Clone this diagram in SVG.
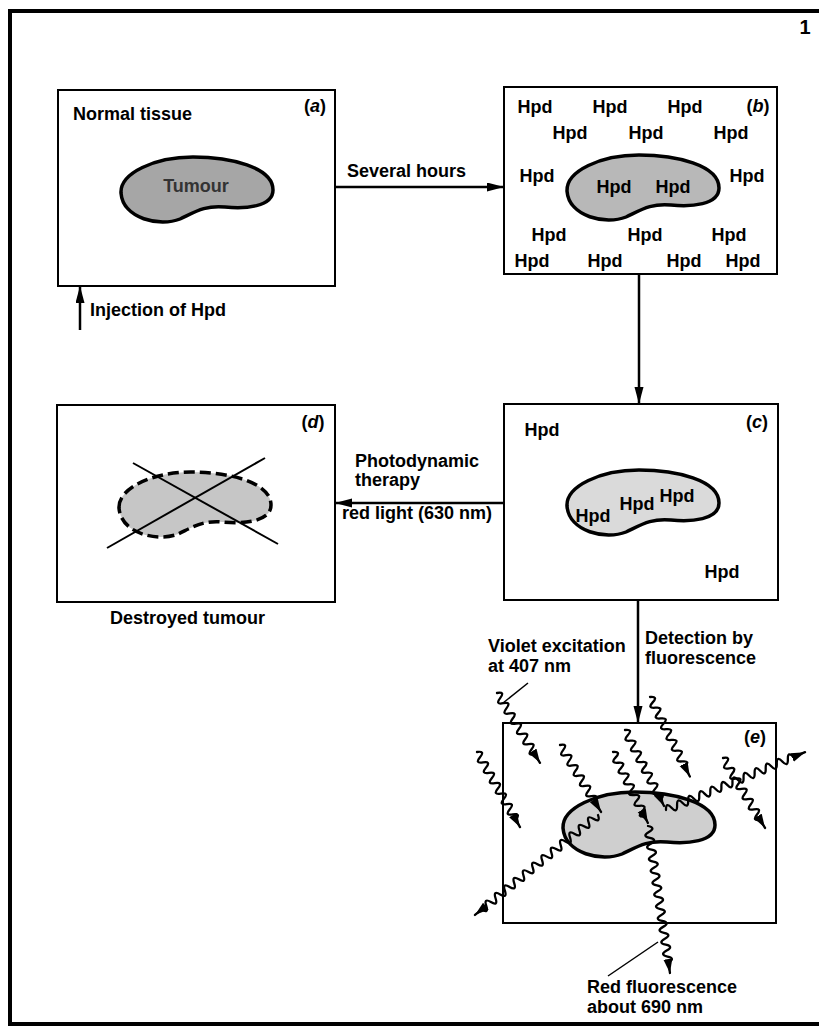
<svg xmlns="http://www.w3.org/2000/svg" width="819" height="1028" viewBox="0 0 819 1028">
<defs>
<style>
text{font-family:"Liberation Sans",Arial,Helvetica,sans-serif;font-weight:bold;font-size:18px;fill:#000}
.box{fill:#fff;stroke:#000;stroke-width:2}
.frame{stroke:#000;stroke-width:4;fill:none}
.arr{stroke:#000;stroke-width:2.5;fill:none;marker-end:url(#ah)}
.lead{stroke:#000;stroke-width:1.5;fill:none}
.wave{stroke:#000;stroke-width:2.3;fill:none;stroke-linejoin:round;stroke-linecap:round}
.wa{marker-end:url(#wh)}
.tum{stroke:#000;stroke-width:3.5}
.cross{stroke:#000;stroke-width:2}
.mid{text-anchor:middle}
</style>
<marker id="ah" markerUnits="userSpaceOnUse" markerWidth="20" markerHeight="12" refX="17" refY="4.5" orient="auto"><path d="M0,0 L17,4.5 L0,9 z" fill="#000"/></marker>
<marker id="wh" markerUnits="userSpaceOnUse" markerWidth="18" markerHeight="10" refX="14" refY="4.5" orient="auto"><path d="M0,0 L14,4.5 L0,9 z" fill="#000"/></marker>
<path id="kid" d="M1,36 C0,16 35,0 73,0 C110,0 153,10 153,33 C153,50 125,52 105,50 C85,48 75,55 60,62 C40,70 3,62 1,36 Z"/>
</defs>

<g id="frame">
<line class="frame" x1="8" y1="11" x2="819" y2="11"/>
<line class="frame" x1="10" y1="9" x2="10" y2="1026" stroke-width="3.5"/>
<line class="frame" x1="8" y1="1024" x2="819" y2="1024"/>
<text x="805" y="34" class="mid" style="font-size:20px">1</text>
</g>

<g id="node-a">
<rect class="box" x="58" y="90" width="277" height="196"/>
<text x="73" y="120">Normal tissue</text>
<text x="315" y="112" class="mid">(<tspan font-style="italic">a</tspan>)</text>
<use href="#kid" transform="translate(120,157)" fill="#a6a6a6" class="tum"/>
<text x="196" y="192" class="mid" style="fill:#333">Tumour</text>
</g>

<g id="node-b">
<rect class="box" x="504" y="87" width="273" height="187"/>
<text x="758" y="112" class="mid">(<tspan font-style="italic">b</tspan>)</text>
<use href="#kid" transform="translate(566,155)" fill="#b8b8b8" class="tum"/>
<text x="535" y="113" class="mid">Hpd</text>
<text x="610" y="113" class="mid">Hpd</text>
<text x="685" y="113" class="mid">Hpd</text>
<text x="570" y="139" class="mid">Hpd</text>
<text x="646" y="139" class="mid">Hpd</text>
<text x="731" y="139" class="mid">Hpd</text>
<text x="537" y="182" class="mid">Hpd</text>
<text x="747" y="182" class="mid">Hpd</text>
<text x="614" y="193" class="mid">Hpd</text>
<text x="673" y="193" class="mid">Hpd</text>
<text x="549" y="241" class="mid">Hpd</text>
<text x="645" y="241" class="mid">Hpd</text>
<text x="729" y="241" class="mid">Hpd</text>
<text x="532" y="267" class="mid">Hpd</text>
<text x="605" y="267" class="mid">Hpd</text>
<text x="684" y="267" class="mid">Hpd</text>
<text x="743" y="267" class="mid">Hpd</text>
</g>

<g id="node-c">
<rect class="box" x="504" y="404" width="274" height="196"/>
<text x="757" y="428" class="mid">(<tspan font-style="italic">c</tspan>)</text>
<use href="#kid" transform="translate(566,470)" fill="#dadada" class="tum"/>
<text x="542" y="436" class="mid">Hpd</text>
<text x="722" y="578" class="mid">Hpd</text>
<text x="593" y="522" class="mid">Hpd</text>
<text x="637" y="510" class="mid">Hpd</text>
<text x="677" y="502" class="mid">Hpd</text>
</g>

<g id="node-d">
<rect class="box" x="57" y="405" width="278" height="197"/>
<text x="313" y="428" class="mid">(<tspan font-style="italic">d</tspan>)</text>
<use href="#kid" transform="translate(118,472)" fill="#c6c6c6" class="tum" stroke-width="4" stroke-dasharray="11,5"/>
<line class="cross" x1="133" y1="463" x2="278" y2="544"/>
<line class="cross" x1="107" y1="548" x2="265" y2="458"/>
<text x="110" y="624">Destroyed tumour</text>
</g>

<g id="node-e">
<rect class="box" x="503" y="723" width="273" height="200"/>
<text x="755" y="743" class="mid">(<tspan font-style="italic">e</tspan>)</text>
<use href="#kid" transform="translate(562,792)" fill="#cfcfcf" class="tum"/>
<g id="waves">
<path class="wave wa" transform="translate(497,693) rotate(58.4)" d="M0,0 q3,-8 6,0 t6,0 t6,0 t6,0 t6,0 t6,0 t6,0 t6,0 t6,0 t6,0 t6,0 t6,0 h10"/>
<path class="wave wa" transform="translate(477,752) rotate(60.2)" d="M0,0 q3,-8 6,0 t6,0 t6,0 t6,0 t6,0 t6,0 t6,0 t6,0 t6,0 t6,0 t6,0 t6,0 t6,0 h8.5"/>
<path class="wave wa" transform="translate(560,745) rotate(58.5)" d="M0,0 q3,-8 6,0 t6,0 t6,0 t6,0 t6,0 t6,0 t6,0 t6,0 t6,0 t6,0 t6,0 h12.5"/>
<path class="wave wa" transform="translate(613,752) rotate(63.8)" d="M0,0 q3,-8 6,0 t6,0 t6,0 t6,0 t6,0 t6,0 t6,0 t6,0 t6,0 t6,0 t6,0 t6,0 h7"/>
<path class="wave wa" transform="translate(625,730) rotate(62.8)" d="M0,0 q3,-8 6,0 t6,0 t6,0 t6,0 t6,0 t6,0 t6,0 t6,0 t6,0 t6,0 t6,0 t6,0 t6,0 h7.4"/>
<path class="wave wa" transform="translate(650,697) rotate(63.4)" d="M0,0 q3,-8 6,0 t6,0 t6,0 t6,0 t6,0 t6,0 t6,0 t6,0 t6,0 t6,0 t6,0 t6,0 t6,0 h11"/>
<path class="wave wa" transform="translate(723,758) rotate(59)" d="M0,0 q3,-8 6,0 t6,0 t6,0 t6,0 t6,0 t6,0 t6,0 t6,0 t6,0 t6,0 t6,0 t6,0 h9.6"/>
<path class="wave wa" transform="translate(598,815) rotate(140.9)" d="M0,0 q3,-8 6,0 t6,0 t6,0 t6,0 t6,0 t6,0 t6,0 t6,0 t6,0 t6,0 t6,0 t6,0 t6,0 t6,0 t6,0 t6,0 t6,0 t6,0 t6,0 t6,0 t6,0 t6,0 t6,0 t6,0 t6,0 h8.5"/>
<path class="wave wa" transform="translate(648,826) rotate(81.5)" d="M0,0 q3,-8 6,0 t6,0 t6,0 t6,0 t6,0 t6,0 t6,0 t6,0 t6,0 t6,0 t6,0 t6,0 t6,0 t6,0 t6,0 t6,0 t6,0 t6,0 t6,0 t6,0 t6,0 t6,0 t6,0 h10.6"/>
<path class="wave wa" transform="translate(666,810) rotate(-22.6)" d="M0,0 q3,-8 6,0 t6,0 t6,0 t6,0 t6,0 t6,0 t6,0 t6,0 t6,0 t6,0 t6,0 t6,0 t6,0 t6,0 t6,0 t6,0 t6,0 t6,0 t6,0 t6,0 t6,0 t6,0 t6,0 h12.6"/>
</g>
</g>

<g id="labels">
<text x="90" y="316">Injection of Hpd</text>
<text x="347" y="177">Several hours</text>
<text x="355" y="467">Photodynamic</text>
<text x="355" y="486">therapy</text>
<text x="342" y="519">red light (630 nm)</text>
<text x="645" y="644">Detection by</text>
<text x="645" y="664">fluorescence</text>
<text x="488" y="652">Violet excitation</text>
<text x="488" y="672">at 407 nm</text>
<text x="587" y="993">Red fluorescence</text>
<text x="587" y="1013">about 690 nm</text>
</g>

<g id="connectors">
<path class="arr" d="M335,187 H504"/>
<path class="arr" d="M639,274 V404"/>
<path class="arr" d="M504,503 H335"/>
<path class="arr" d="M638,600 V723"/>
<path class="arr" d="M80,330 V286"/>
<line class="lead" x1="528" y1="683" x2="503" y2="703"/>
<line class="lead" x1="608" y1="976" x2="658" y2="942"/>
</g>
</svg>
